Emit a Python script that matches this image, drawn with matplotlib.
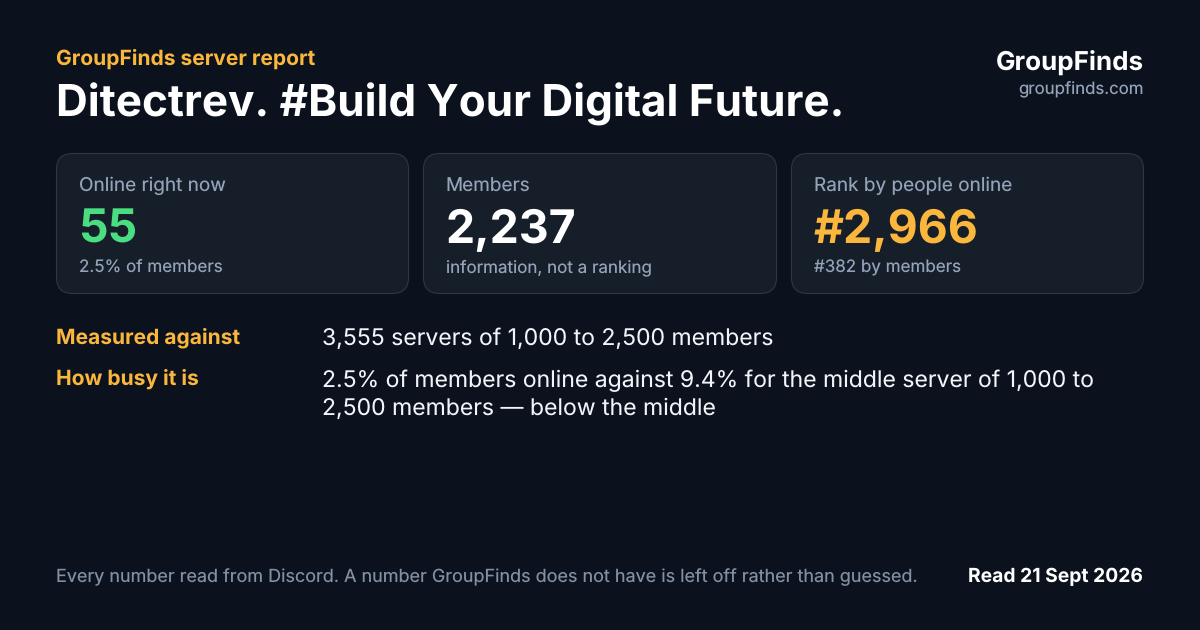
import matplotlib
matplotlib.use("Agg")
import matplotlib.pyplot as plt
from matplotlib.patches import FancyBboxPatch

BG = "#0b121e"
CARD = "#161e2a"
EDGE = "#2e3744"
AMBER = "#fbb73c"
GREEN = "#4ade80"
WHITE = "#ffffff"
MUTED = "#94a3b8"
BODY = "#f1f5f9"
FOOT = "#8290a3"

card_labels = ["Online right now", "Members", "Rank by people online"]
card_values = ["55", "2,237", "#2,966"]
card_notes = ["2.5% of members", "information, not a ranking", "#382 by members"]
card_colors = [GREEN, WHITE, AMBER]
card_lefts = [56.5, 423.5, 791.5]
card_widths = [352, 353, 352]

row_labels = ["Measured against", "How busy it is"]
row_lines = [["3,555 servers of 1,000 to 2,500 members"],
             ["2.5% of members online against 9.4% for the middle server of 1,000 to",
              "2,500 members \u2014 below the middle"]]
row_ys = [[345, 345], [387, 415]]
row_label_ys = [343, 385]

plt.rcParams["font.family"] = ["Inter", "DejaVu Sans"]
plt.rcParams["text.hinting"] = "none"
plt.rcParams["text.hinting_factor"] = 1
fig = plt.figure(figsize=(12, 6.3), dpi=100, facecolor=BG)
ax = fig.add_axes([0, 0, 1, 1])
ax.set_xlim(0, 1200)
ax.set_ylim(630, 0)
ax.axis("off")

def px(s):
    return s * 72 / 100

def text(x, y, s, size, color, weight="normal", ha="left"):
    ax.text(x, y, s, fontsize=px(size), color=color, fontweight=weight, ha=ha, va="baseline")

text(56, 64.5, "GroupFinds server report", 21, AMBER, "bold")
text(56, 117, "Ditectrev. #Build Your Digital Future.", 44, WHITE, "bold")
text(1143.5, 70.5, "GroupFinds", 26, WHITE, "bold", "right")
text(1143.5, 94, "groupfinds.com", 16.8, MUTED, "normal", "right")

for i in range(3):
    x = card_lefts[i]
    ax.add_patch(FancyBboxPatch((x + 16, 153.5 + 16), card_widths[i] - 32, 140 - 32,
                                boxstyle="round,pad=16,rounding_size=16",
                                fc=CARD, ec=EDGE, lw=0.8))
    text(x + 22.2, 191.3, card_labels[i], 19, MUTED)
    text(x + 22, 243, card_values[i], 46.3, card_colors[i], "bold")
    text(x + 22.3, 272, card_notes[i], 17, MUTED)

for label, lines, ys, ly in zip(row_labels, row_lines, row_ys, row_label_ys):
    text(56, ly, label, 21, AMBER, "bold")
    for line, y in zip(lines, ys):
        text(322.5, y, line, 23, BODY)

text(56, 582, "Every number read from Discord. A number GroupFinds does not have is left off rather than guessed.", 18, FOOT)
text(1143, 582, "Read 21 Sept 2026", 19.3, WHITE, "bold", "right")

fig.savefig("out.png", dpi=100, facecolor=BG)
